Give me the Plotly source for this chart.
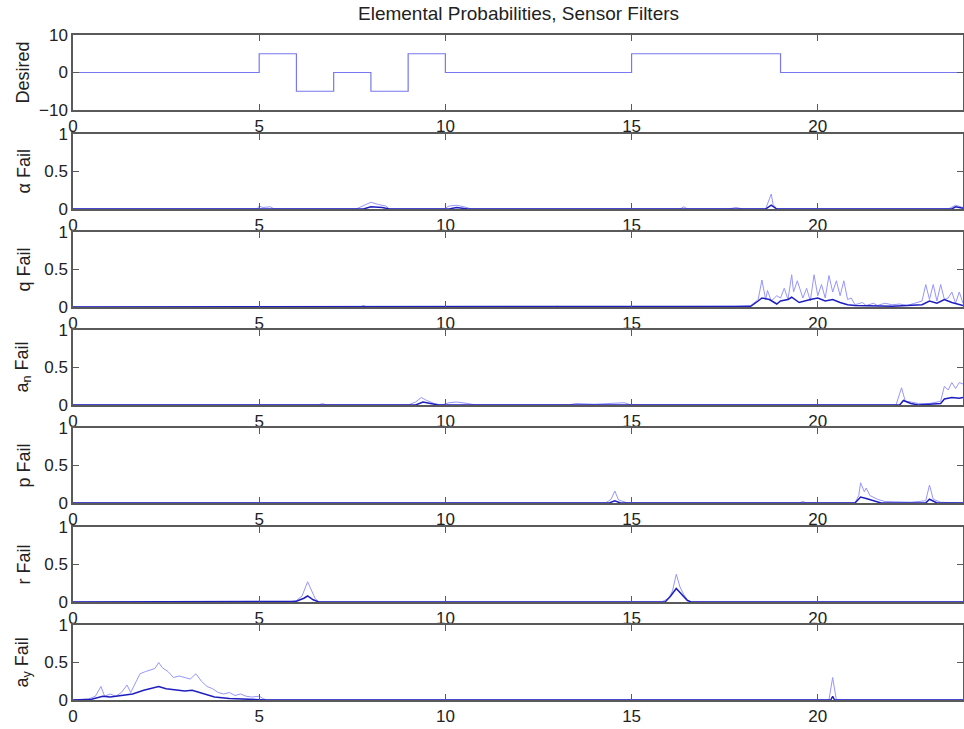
import plotly.graph_objects as go

# ---------------- data ----------------
title_text = "Elemental Probabilities, Sensor Filters"
panel_labels = ["Desired", "α Fail", "q Fail", "a<sub>n</sub> Fail", "p Fail", "r Fail", "a<sub>y</sub> Fail"]
x_ticks = [0, 5, 10, 15, 20]
t_end = 23.9

# Desired command (step changes)
desired_t = [0, 5, 6, 7, 8, 9, 10, 15, 19, 23.9]
desired_v = [0, 5, -5, 0, -5, 5, 0, 5, 0, 0]

alpha_light = [(0, 0), (4.95, 0), (5.0, 0.04), (5.1, 0.02), (5.3, 0.03), (5.4, 0), (7.6, 0), (7.8, 0.05),
               (8.0, 0.09), (8.2, 0.06), (8.4, 0.04), (8.5, 0), (9.95, 0), (10.1, 0.04), (10.3, 0.05),
               (10.5, 0.03), (10.7, 0), (16.3, 0), (16.4, 0.03), (16.5, 0), (17.6, 0), (17.8, 0.02),
               (18.0, 0), (18.6, 0), (18.75, 0.2), (18.8, 0.06), (18.9, 0), (23.5, 0), (23.7, 0.05), (23.9, 0.02)]
alpha_dark = [(0, 0), (5.0, 0), (5.2, 0.01), (5.4, 0), (7.8, 0), (8.0, 0.03), (8.3, 0.02), (8.5, 0),
              (10.1, 0), (10.3, 0.02), (10.6, 0), (18.6, 0), (18.75, 0.05), (18.9, 0), (23.6, 0),
              (23.7, 0.03), (23.9, 0.01)]

q_light = [(0, 0), (7.7, 0), (7.8, 0.02), (7.9, 0), (12.9, 0), (13.0, 0.01), (13.1, 0), (16.0, 0),
           (16.1, 0.01), (16.2, 0), (17.0, 0), (17.1, 0.01), (17.2, 0), (17.8, 0.01), (18.2, 0.02),
           (18.4, 0.1), (18.5, 0.36), (18.6, 0.1), (18.65, 0.22), (18.75, 0.08), (18.9, 0.15), (19.0, 0.12),
           (19.1, 0.25), (19.2, 0.1), (19.3, 0.43), (19.35, 0.2), (19.45, 0.35), (19.6, 0.12), (19.7, 0.25),
           (19.8, 0.08), (19.9, 0.43), (20.0, 0.15), (20.1, 0.3), (20.2, 0.12), (20.3, 0.42), (20.4, 0.2),
           (20.5, 0.35), (20.6, 0.15), (20.7, 0.35), (20.8, 0.1), (20.9, 0.12), (21.0, 0.03), (21.2, 0.06),
           (21.3, 0.02), (21.5, 0.05), (21.6, 0.02), (21.8, 0.05), (22.0, 0.03), (22.2, 0.04), (22.4, 0.02),
           (22.6, 0.05), (22.8, 0.08), (22.9, 0.3), (23.0, 0.1), (23.1, 0.3), (23.2, 0.08), (23.3, 0.3),
           (23.4, 0.1), (23.5, 0.12), (23.6, 0.2), (23.7, 0.05), (23.8, 0.2), (23.9, 0.05)]
q_dark = [(0, 0), (18.0, 0), (18.2, 0.01), (18.4, 0.08), (18.5, 0.12), (18.7, 0.1), (18.9, 0.04),
          (19.0, 0.08), (19.2, 0.1), (19.3, 0.13), (19.5, 0.06), (19.8, 0.1), (20.0, 0.12), (20.2, 0.08),
          (20.4, 0.1), (20.6, 0.06), (20.8, 0.03), (21.0, 0.02), (22.0, 0.01), (22.8, 0.03), (23.0, 0.08),
          (23.2, 0.05), (23.4, 0.1), (23.6, 0.06), (23.8, 0.04), (23.9, 0.02)]

an_light = [(0, 0), (6.6, 0), (6.7, 0.02), (6.8, 0), (9.0, 0), (9.2, 0.04), (9.35, 0.1), (9.5, 0.06),
            (9.7, 0.02), (9.9, 0), (10.1, 0.03), (10.3, 0.04), (10.6, 0.02), (10.8, 0), (13.3, 0),
            (13.5, 0.02), (14.0, 0.01), (14.5, 0.02), (14.8, 0.03), (15.0, 0), (22.1, 0), (22.25, 0.23),
            (22.35, 0.05), (22.5, 0.04), (22.7, 0.02), (23.0, 0.02), (23.3, 0.05), (23.4, 0.25),
            (23.5, 0.2), (23.6, 0.3), (23.7, 0.22), (23.8, 0.3), (23.9, 0.28)]
an_dark = [(0, 0), (9.2, 0), (9.4, 0.04), (9.6, 0.02), (9.8, 0), (22.2, 0), (22.3, 0.06), (22.5, 0.02),
           (22.7, 0), (23.3, 0.02), (23.4, 0.08), (23.6, 0.1), (23.8, 0.09), (23.9, 0.1)]

p_light = [(0, 0), (12.9, 0), (13.0, 0.01), (13.1, 0), (14.3, 0), (14.45, 0.05), (14.55, 0.16),
           (14.65, 0.04), (14.8, 0.02), (14.9, 0), (19.5, 0), (19.6, 0.02), (19.7, 0), (21.0, 0),
           (21.1, 0.1), (21.15, 0.27), (21.25, 0.15), (21.3, 0.2), (21.4, 0.1), (21.6, 0.05), (21.8, 0.02),
           (22.5, 0.01), (22.9, 0.03), (23.0, 0.24), (23.1, 0.05), (23.3, 0.01), (23.9, 0)]
p_dark = [(0, 0), (14.4, 0), (14.55, 0.03), (14.7, 0), (21.0, 0), (21.15, 0.08), (21.3, 0.06),
          (21.5, 0.03), (21.7, 0), (22.9, 0), (23.0, 0.05), (23.2, 0), (23.9, 0)]

r_light = [(0, 0), (5.8, 0), (6.0, 0.02), (6.15, 0.08), (6.3, 0.27), (6.4, 0.15), (6.5, 0.05), (6.6, 0),
           (8.8, 0), (8.9, 0.01), (9.0, 0), (12.8, 0), (12.9, 0.01), (13.0, 0), (15.8, 0), (16.0, 0.05),
           (16.1, 0.15), (16.2, 0.37), (16.3, 0.2), (16.4, 0.1), (16.5, 0.03), (16.6, 0), (23.9, 0)]
r_dark = [(0, 0), (5.9, 0), (6.0, 0.01), (6.2, 0.05), (6.3, 0.08), (6.45, 0.03), (6.6, 0), (15.9, 0),
          (16.05, 0.08), (16.2, 0.18), (16.35, 0.1), (16.5, 0.02), (16.6, 0), (23.9, 0)]

ay_light = [(0, 0), (0.4, 0.01), (0.6, 0.05), (0.75, 0.18), (0.85, 0.05), (1.0, 0.08), (1.15, 0.05),
            (1.3, 0.1), (1.45, 0.2), (1.55, 0.1), (1.7, 0.25), (1.8, 0.35), (1.95, 0.38), (2.1, 0.4),
            (2.2, 0.42), (2.3, 0.5), (2.4, 0.43), (2.55, 0.38), (2.7, 0.3), (2.85, 0.32), (3.0, 0.3),
            (3.15, 0.28), (3.3, 0.35), (3.45, 0.25), (3.6, 0.18), (3.75, 0.15), (3.9, 0.1), (4.05, 0.08),
            (4.2, 0.1), (4.35, 0.06), (4.5, 0.08), (4.65, 0.05), (4.8, 0.04), (5.0, 0.05), (5.1, 0.02),
            (5.2, 0), (20.3, 0), (20.4, 0.3), (20.5, 0), (23.9, 0)]
ay_dark = [(0, 0), (0.5, 0.01), (0.8, 0.05), (1.0, 0.04), (1.3, 0.06), (1.6, 0.08), (1.9, 0.13),
           (2.1, 0.15), (2.3, 0.18), (2.5, 0.15), (2.8, 0.13), (3.0, 0.12), (3.2, 0.13), (3.5, 0.08),
           (3.8, 0.04), (4.2, 0.02), (4.8, 0.01), (5.2, 0), (20.35, 0), (20.4, 0.05), (20.45, 0), (23.9, 0)]

prob_panels = [(alpha_light, alpha_dark), (q_light, q_dark), (an_light, an_dark),
               (p_light, p_dark), (r_light, r_dark), (ay_light, ay_dark)]

# ---------------- layout ----------------
W, H = 964, 729
left_px, right_px = 73, 963
tops_px = [35, 134, 232, 330, 428, 527, 625]
panel_h = 75

light_col = "rgb(150,150,255)"
dark_col = "rgb(30,30,190)"
axis_col = "#5a5a5a"
font_fam = "Liberation Sans, Arial, Helvetica, sans-serif"
tick_size = 17

fig = go.Figure()

def axname(i, kind):
    return kind if i == 0 else f"{kind}{i + 1}"

# desired
fig.add_trace(go.Scatter(x=desired_t, y=desired_v, mode="lines", line=dict(color="rgb(120,120,240)", width=1.2, shape="hv"),
                         xaxis="x", yaxis="y", showlegend=False, hoverinfo="skip"))

for k, (lt, dk) in enumerate(prob_panels):
    i = k + 1
    fig.add_trace(go.Scatter(x=[p[0] for p in lt], y=[p[1] for p in lt], mode="lines",
                             line=dict(color=light_col, width=1), xaxis=axname(i, "x"), yaxis=axname(i, "y"),
                             showlegend=False, hoverinfo="skip"))
    fig.add_trace(go.Scatter(x=[p[0] for p in dk], y=[p[1] for p in dk], mode="lines",
                             line=dict(color=dark_col, width=1.5), xaxis=axname(i, "x"), yaxis=axname(i, "y"),
                             showlegend=False, hoverinfo="skip"))

layout = dict(width=W, height=H, margin=dict(l=0, r=0, t=0, b=0, pad=0, autoexpand=False),
              paper_bgcolor="white", plot_bgcolor="white",
              font=dict(family=font_fam, size=tick_size, color="#222"), showlegend=False)

annotations = []
for i in range(7):
    top = tops_px[i]
    bot = top + panel_h
    xa = dict(domain=[left_px / W, right_px / W], range=[0, t_end], tickvals=x_ticks, automargin=False,
              ticks="inside", ticklen=6, tickcolor=axis_col, showline=True, linecolor=axis_col, linewidth=1.5,
              mirror="ticks", showgrid=False, zeroline=False, anchor=axname(i, "y"),
              tickfont=dict(size=tick_size, color="#222"))
    if i == 0:
        ya = dict(range=[-10, 10], tickvals=[-10, 0, 10])
    else:
        ya = dict(range=[0, 1], tickvals=[0, 0.5, 1], ticktext=["0", "0.5", "1"])
    ya.update(domain=[1 - bot / H, 1 - top / H], ticks="inside", ticklen=6, tickcolor=axis_col, showline=True,
              linecolor=axis_col, linewidth=1.5, mirror="ticks", showgrid=False, zeroline=False, automargin=False,
              anchor=axname(i, "x"), tickfont=dict(size=tick_size, color="#222"))
    layout["xaxis" if i == 0 else f"xaxis{i + 1}"] = xa
    layout["yaxis" if i == 0 else f"yaxis{i + 1}"] = ya
    annotations.append(dict(text=panel_labels[i], xref="paper", yref="paper", x=23 / W, y=1 - (top + panel_h / 2) / H,
                            textangle=-90, showarrow=False, xanchor="center", yanchor="middle",
                            font=dict(size=18, color="#222")))

annotations.append(dict(text=title_text, xref="paper", yref="paper", x=(left_px + right_px) / 2 / W, y=1 - 14 / H,
                        showarrow=False, xanchor="center", yanchor="middle", font=dict(size=19, color="#222")))
layout["annotations"] = annotations
fig.update_layout(**layout)

fig.write_html("out.html", config={"displayModeBar": False},
               post_script="document.body.style.margin='0';document.body.style.padding='0';")
